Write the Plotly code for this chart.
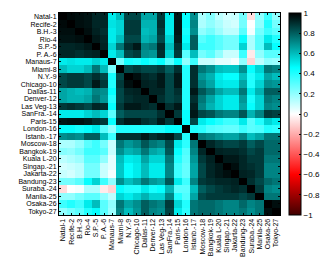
import numpy as np
import plotly.graph_objects as go

cities = ["Natal-1", "Recife-2", "B.H.-3", "Rio-4", "S.P.-5", "P. A.-6", "Manaus-7",
          "Miami-8", "N.Y.-9", "Chicago-10", "Dallas-11", "Denver-12", "Las Veg-13",
          "SanFra.-14", "Paris-15", "London-16", "Istanb.-17", "Moscow-18", "Bangkok-19",
          "Kuala L-20", "Singap.-21", "Jakarta-22", "Bandung-23", "Suraba.-24", "Manila-25",
          "Osaka-26", "Tokyo-27"]

# upper triangle rows: row i holds correlations with cities i+1 .. 27
r1 = [.98, .97, .96, .92, .92, .50, .60, .85, .85, .65, .65, .88, .50, .95, .45, .70, .15, .22, .12, .08, .10, .25, -.08, .20, .35, .20]
r2 = [.97, .96, .92, .92, .52, .55, .88, .88, .62, .62, .90, .50, .96, .45, .72, .15, .20, .15, .10, .08, .25, .00, .20, .40, .25]
r3 = [.97, .93, .90, .50, .55, .88, .88, .60, .62, .88, .50, .96, .42, .70, .20, .25, .18, .12, .12, .30, .02, .25, .35, .30]
r4 = [.95, .92, .50, .60, .85, .85, .62, .65, .85, .55, .94, .45, .80, .30, .35, .30, .25, .25, .45, .15, .30, .50, .40]
r5 = [.93, .55, .75, .90, .95, .72, .75, .92, .60, .90, .50, .80, .35, .35, .30, .25, .25, .55, .15, .30, .60, .45]
r6 = [.50, .60, .85, .88, .70, .68, .90, .55, .88, .30, .60, .25, .30, .20, .10, .10, .35, -.05, .20, .30, .30]
r7 = [.25, .42, .40, .45, .40, .45, .30, .45, .20, .35, .10, .10, .05, .05, .02, .20, -.10, .12, .20, .18]
r8 = [.85, .88, .85, .85, .88, .80, .90, .40, .90, .75, .70, .60, .58, .58, .70, .45, .55, .75, .72]
r9 = [.97, .92, .90, .95, .85, .95, .40, .90, .68, .62, .50, .45, .45, .60, .40, .50, .65, .60]
r10 = [.93, .92, .95, .85, .95, .40, .90, .72, .65, .52, .50, .50, .65, .40, .55, .70, .68]
r11 = [.92, .92, .85, .90, .40, .95, .82, .75, .65, .60, .60, .75, .50, .62, .80, .80]
r12 = [.90, .85, .88, .40, .90, .75, .65, .55, .50, .50, .68, .42, .55, .75, .72]
r13 = [.90, .95, .40, .93, .72, .62, .55, .50, .50, .65, .45, .55, .72, .70]
r14 = [.88, .45, .95, .85, .82, .75, .72, .72, .82, .62, .72, .88, .86]
r15 = [.45, .85, .50, .45, .40, .35, .35, .50, .30, .40, .55, .50]
r16 = [.40, .38, .32, .30, .28, .28, .35, .30, .32, .40, .38]
r17 = [.75, .72, .68, .65, .65, .72, .60, .65, .75, .75]
r18 = [.92, .88, .85, .85, .88, .80, .85, .78, .78]
r19 = [.93, .92, .92, .90, .85, .88, .78, .78]
r20 = [.95, .95, .92, .88, .88, .75, .75]
r21 = [.97, .92, .90, .88, .72, .72]
r22 = [.93, .92, .88, .72, .72]
r23 = [.90, .85, .78, .75]
r24 = [.88, .72, .70]
r25 = [.75, .75]
r26 = [.97]

upper = [r1, r2, r3, r4, r5, r6, r7, r8, r9, r10, r11, r12, r13, r14, r15, r16,
         r17, r18, r19, r20, r21, r22, r23, r24, r25, r26]

n = len(cities)
z = np.eye(n)
for i, row in enumerate(upper):
    for k, v in enumerate(row):
        j = i + 1 + k
        z[i, j] = v
        z[j, i] = v

colorscale = [
    [0.0, "#400000"],
    [0.2, "#ff0000"],
    [0.5, "#ffffff"],
    [0.73, "#00ffff"],
    [1.0, "#000000"],
]

fig = go.Figure(go.Heatmap(
    z=z, x=cities, y=cities, zmin=-1, zmax=1, colorscale=colorscale,
    colorbar=dict(
        x=1.04, xanchor="left", xpad=0, y=0.5, yanchor="middle", len=1, lenmode="fraction",
        ypad=0, thickness=12, outlinecolor="black", outlinewidth=1,
        tickmode="linear", tick0=-1, dtick=0.2, ticks="inside", ticklen=2,
        tickcolor="black", tickfont=dict(size=8, color="black"),
    ),
))

axis_common = dict(
    showline=True, linecolor="black", linewidth=1, mirror="ticks",
    ticks="inside", ticklen=2, tickcolor="black", showgrid=False,
    tickmode="array", tickvals=cities, ticktext=cities,
    tickfont=dict(size=7, color="black"),
)

fig.update_xaxes(tickangle=-90, **axis_common)
fig.update_yaxes(autorange="reversed", **axis_common)

fig.update_layout(
    width=334, height=263,
    margin=dict(l=51, r=62, t=5, b=56),
    paper_bgcolor="white", plot_bgcolor="white",
    font=dict(family="Liberation Sans, Arial, Helvetica, sans-serif", size=7, color="black"),
)

fig.write_html("out.html")
